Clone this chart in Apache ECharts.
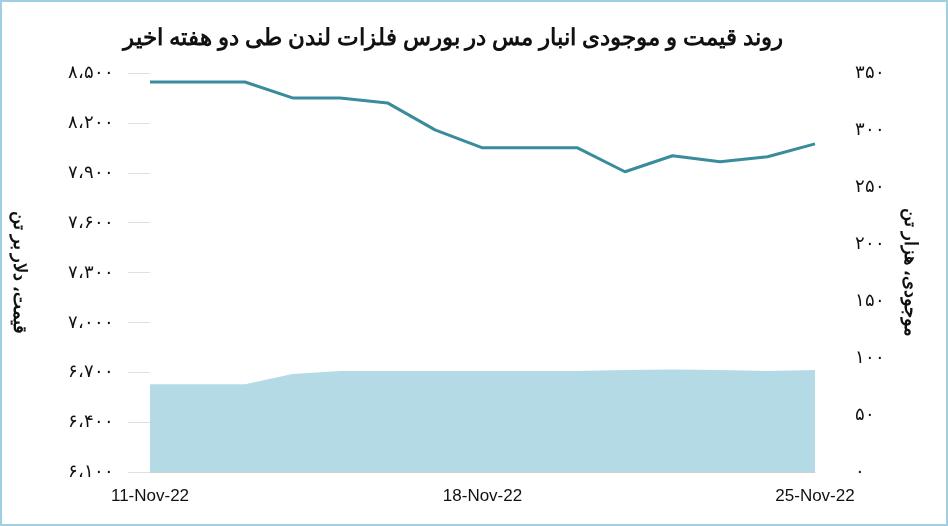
<!DOCTYPE html>
<html><head><meta charset="utf-8">
<script src="https://cdn.jsdelivr.net/npm/echarts@6/dist/echarts.min.js"></script>
<style>html,body{margin:0;padding:0;background:#fff}#c{width:944px;height:522px;border:2px solid #9fcfe0}</style>
</head><body><div id="c"></div>
<script>
var dates=['11-Nov-22','12-Nov-22','13-Nov-22','14-Nov-22','15-Nov-22','16-Nov-22','17-Nov-22','18-Nov-22','19-Nov-22','20-Nov-22','21-Nov-22','22-Nov-22','23-Nov-22','24-Nov-22','25-Nov-22'];
var shownLabels=['11-Nov-22','18-Nov-22','25-Nov-22'];
var price=[8446,8446,8446,8350,8350,8320,8158,8050,8050,8050,7906,8002,7966,7996,8074];
var stock=[77,77,77,86,88.6,88.6,88.6,88.6,88.6,88.6,89.5,90,89.5,88.6,89.5];
var title='روند قیمت و موجودی انبار مس در بورس فلزات لندن طی دو هفته اخیر';
var ar='۰۱۲۳۴۵۶۷۸۹';
function fa(v){var s=String(v);if(v>=1000){s=s.slice(0,s.length-3)+'،'+s.slice(-3);}return s.replace(/[0-9]/g,function(d){return ar[d];});}
var ch=echarts.init(document.getElementById('c'));
ch.setOption({
 title:{text:title,left:446,top:20,textAlign:'center',textStyle:{fontFamily:'Noto Sans',fontSize:23,fontWeight:'bold',color:'#111'}},
 grid:{left:148,right:131,top:71,bottom:52},
 xAxis:{type:'category',data:dates,boundaryGap:false,axisLine:{lineStyle:{color:'#d0d0d0'}},axisTick:{show:false},
  axisLabel:{interval:0,color:'#111',fontSize:17,margin:16,fontFamily:'Liberation Sans',formatter:function(v){return shownLabels.indexOf(v)>=0?v:'';}}},
 yAxis:[{type:'value',min:6100,max:8500,interval:300,position:'left',splitLine:{show:false},axisLine:{show:false},
   axisTick:{show:true,length:22,inside:false,lineStyle:{color:'#e0e0e0'}},
   axisLabel:{color:'#111',fontSize:18,margin:36,fontFamily:'Noto Sans',formatter:fa},
   name:'قیمت، دلار بر تن',nameLocation:'middle',nameGap:122,nameRotate:270,nameTextStyle:{fontSize:18,fontWeight:'bold',color:'#111',fontFamily:'Noto Sans'}},
  {type:'value',min:0,max:350,interval:50,position:'right',splitLine:{show:false},axisLine:{show:false},axisTick:{show:false},
   axisLabel:{color:'#111',fontSize:18,margin:40,fontFamily:'Noto Sans',formatter:fa},
   name:'موجودی، هزار تن',nameLocation:'middle',nameGap:86,nameRotate:270,nameTextStyle:{fontSize:18,fontWeight:'bold',color:'#111',fontFamily:'Noto Sans'}}],
 series:[
  {type:'line',yAxisIndex:1,data:stock,symbol:'none',lineStyle:{width:0},areaStyle:{color:'#b4dbe5',opacity:1}},
  {type:'line',yAxisIndex:0,data:price,symbol:'none',lineStyle:{width:3,color:'#3a8b9c'}}
 ]
});
</script></body></html>
